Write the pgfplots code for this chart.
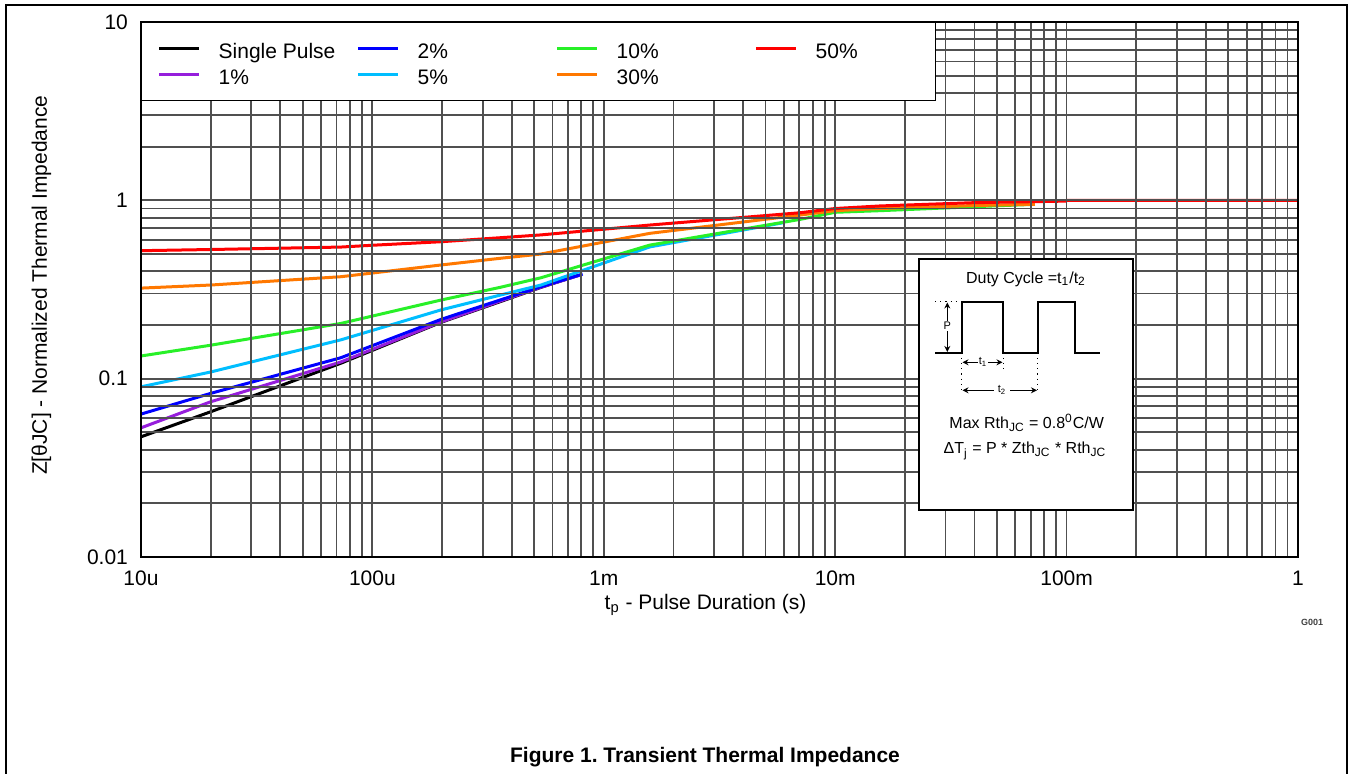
\documentclass[border=0pt]{standalone}
\usepackage{fontspec}
\setmainfont{Liberation Sans}
\usepackage{pgfplots}
\pgfplotsset{compat=1.18}
\usetikzlibrary{arrows.meta}

\definecolor{cPurple}{RGB}{150,30,220}
\definecolor{cBlue}{RGB}{0,0,255}
\definecolor{cCyan}{RGB}{0,190,255}
\definecolor{cGreen}{RGB}{40,240,40}
\definecolor{cOrange}{RGB}{255,120,0}
\definecolor{cRed}{RGB}{255,0,0}
\definecolor{gridgray}{RGB}{80,80,80}

\newcommand{\lfont}{\fontsize{10.5}{12.6}\selectfont}
\newcommand{\sfont}{\fontsize{8}{9.6}\selectfont}
\newcommand{\tfont}{\fontsize{5.5}{6.5}\selectfont}

\begin{document}
\begin{tikzpicture}

\begin{axis}[
  at={(70.5pt,-278.5pt)}, anchor=south west,
  width=578.5pt, height=267.5pt, scale only axis,
  xmode=log, ymode=log,
  xmin=1e-5, xmax=1, ymin=0.01, ymax=10,
  xtick={1e-5,1e-4,1e-3,1e-2,1e-1,1},
  xticklabels={10u,100u,1m,10m,100m,1},
  ytick={0.01,0.1,1,10},
  yticklabels={0.01,0.1,1,10},
  grid=both,
  major grid style={gridgray, line width=0.9pt},
  minor grid style={gridgray, line width=0.9pt},
  major tick length=0pt, minor tick length=0pt,
  axis on top,
  axis line style={black, line width=0.7pt},
  tick label style={font=\lfont},
  xticklabel style={yshift=-3.5pt},
  yticklabel style={xshift=-3pt},
  label style={font=\lfont},
  xlabel={t\textsubscript{p} - Pulse Duration (s)},
  ylabel={Z[θJC] - Normalized Thermal Impedance},
  xlabel style={at={(axis description cs:0.488,-0.09)}, anchor=center},
  ylabel style={at={(axis description cs:-0.086,0.508)}, anchor=center},
  legend columns=4,
  legend cell align=left,
  legend image code/.code={\draw[#1] (0pt,0pt) -- (20pt,0pt);},
  legend style={at={(0,1)}, anchor=north west, draw=black, line width=0.7pt,
    fill=white, inner xsep=8pt, inner ysep=6.5pt, font=\lfont,
    nodes={inner sep=0pt, text height=11.5pt, text depth=1.5pt},
    /tikz/every odd column/.append style={column sep=9pt},
    /tikz/every even column/.append style={column sep=9pt},
    row sep=0pt},
]

% Single Pulse
\addplot[black, line width=1.5pt, forget plot] coordinates {
  (1e-5,0.0472) (2e-5,0.0652) (7.3e-5,0.122) (1.98e-4,0.207)
  (3.56e-4,0.27) (5.35e-4,0.325) (7.8e-4,0.38)
};
% 1%
\addplot[cPurple, line width=1.5pt, forget plot] coordinates {
  (1e-5,0.053) (2e-5,0.0742) (7.3e-5,0.124) (1.98e-4,0.208)
  (3.56e-4,0.272) (5.35e-4,0.326) (8e-4,0.383)
};
% 2%
\addplot[cBlue, line width=1.5pt, forget plot] coordinates {
  (1e-5,0.0633) (2e-5,0.0827) (7.3e-5,0.131) (1.98e-4,0.215)
  (3.56e-4,0.276) (5.35e-4,0.328) (8.1e-4,0.386)
};
% 5%
\addplot[cCyan, line width=1.5pt, forget plot] coordinates {
  (1e-5,0.090) (2e-5,0.109) (7.3e-5,0.165) (1.98e-4,0.243)
  (3.56e-4,0.294) (5.35e-4,0.335) (1.58e-3,0.548) (6e-3,0.75)
};
% 10%
\addplot[cGreen, line width=1.5pt, forget plot] coordinates {
  (1e-5,0.134) (2e-5,0.154) (7.3e-5,0.204) (1.98e-4,0.276)
  (3.56e-4,0.325) (5.35e-4,0.368) (1.58e-3,0.561) (7.05e-3,0.782)
  (1e-2,0.857) (1.56e-2,0.875) (4.8e-2,0.93) (7.3e-2,0.95)
};
% 30%
\addplot[cOrange, line width=1.5pt, forget plot] coordinates {
  (1e-5,0.322) (2e-5,0.335) (7.3e-5,0.373) (1.98e-4,0.434)
  (3.56e-4,0.473) (5.35e-4,0.50) (1.58e-3,0.653) (7.05e-3,0.827)
  (1e-2,0.875) (1.56e-2,0.90) (3.94e-2,0.935) (7.3e-2,0.95)
};
% 50%
\addplot[cRed, line width=1.5pt, forget plot] coordinates {
  (1e-5,0.522) (2e-5,0.53) (7.3e-5,0.547) (1e-4,0.56) (1.98e-4,0.586)
  (3.56e-4,0.617) (5.35e-4,0.64) (1.58e-3,0.727) (7.05e-3,0.852)
  (1e-2,0.90) (1.56e-2,0.93) (3.94e-2,0.97) (9.9e-2,0.99)
  (1.01e-1,1.0) (1,1.0)
};

% legend, filled row by row
\addlegendimage{black, line width=1.5pt}
\addlegendentry{\makebox[60pt][l]{Single Pulse}}
\addlegendimage{cBlue, line width=1.5pt}
\addlegendentry{\makebox[60pt][l]{2\%}}
\addlegendimage{cGreen, line width=1.5pt}
\addlegendentry{\makebox[60pt][l]{10\%}}
\addlegendimage{cRed, line width=1.5pt}
\addlegendentry{\makebox[52pt][l]{50\%}}
\addlegendimage{cPurple, line width=1.5pt}
\addlegendentry{\makebox[60pt][l]{1\%}}
\addlegendimage{cCyan, line width=1.5pt}
\addlegendentry{\makebox[60pt][l]{5\%}}
\addlegendimage{cOrange, line width=1.5pt}
\addlegendentry{\makebox[60pt][l]{30\%}}

\end{axis}

\begin{scope}[x=0.5pt,y=-0.5pt]
\path[use as bounding box] (0,0) rectangle (1351,774);
\draw[line width=1pt] (6,774) -- (6,5) -- (1347,5) -- (1347,774);

% duty cycle inset
\draw[fill=white, line width=0.7pt] (919,259) rectangle (1133,510);
\node[font=\sfont] at (1026,279) {Duty Cycle =t\textsubscript{1}/t\textsubscript{2}};
\draw[line width=1pt] (935,352.7) -- (961.7,352.7) -- (961.7,301.7) -- (1003.3,301.7)
  -- (1003.3,352.7) -- (1037.7,352.7) -- (1037.7,301.7) -- (1075,301.7)
  -- (1075,352.7) -- (1100,352.7);
\draw[dotted, line width=0.6pt] (935,301.7) -- (961.7,301.7);
\draw[dotted, line width=0.6pt] (961.7,352.7) -- (961.7,391.7);
\draw[dotted, line width=0.6pt] (1003.3,352.7) -- (1003.3,373.3);
\draw[dotted, line width=0.6pt] (1037.7,352.7) -- (1037.7,391.7);
\draw[{Stealth[length=3pt,width=3pt]}-{Stealth[length=3pt,width=3pt]}, line width=0.6pt]
  (947.3,302.5) -- (947.3,352);
\node[fill=white, inner sep=0.6pt, font=\tfont] at (947.3,326) {P};
\draw[{Stealth[length=3pt,width=3pt]}-{Stealth[length=3pt,width=3pt]}, line width=0.6pt]
  (962.5,362.3) -- (1002.5,362.3);
\node[fill=white, inner sep=0.6pt, font=\tfont] at (983,362.3) {t\textsubscript{1}};
\draw[{Stealth[length=3pt,width=3pt]}-{Stealth[length=3pt,width=3pt]}, line width=0.6pt]
  (962.5,390.3) -- (1037,390.3);
\node[fill=white, inner xsep=2pt, inner ysep=0.6pt, font=\tfont] at (1002,390.3) {t\textsubscript{2}};
\node[font=\sfont] at (1026.7,423) {Max Rth\textsubscript{JC} = 0.8\textsuperscript{0}C/W};
\node[font=\sfont] at (1025,451) {ΔT\textsubscript{j} = P * Zth\textsubscript{JC} * Rth\textsubscript{JC}};

\node[font=\bfseries\fontsize{4.5}{5}\selectfont, text=black!75] at (1312,622) {G001};
\node[font=\bfseries\lfont] at (705,757) {Figure 1.\ Transient Thermal Impedance};
\end{scope}

\end{tikzpicture}
\end{document}
